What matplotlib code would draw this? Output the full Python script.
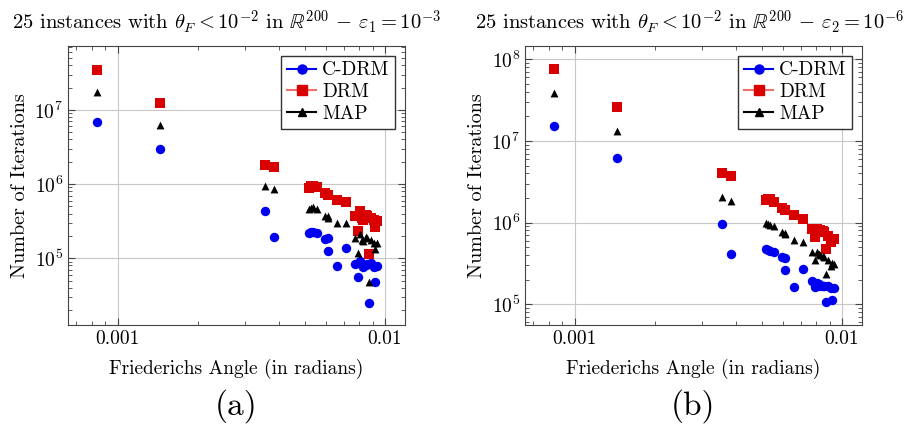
import numpy as np
import matplotlib
matplotlib.use("Agg")
import matplotlib.pyplot as plt
from matplotlib.lines import Line2D
from matplotlib.ticker import LogLocator, FixedLocator, FixedFormatter, NullFormatter

plt.rcParams['font.family'] = ['cmr10', 'DejaVu Serif']
plt.rcParams['mathtext.fontset'] = 'cm'
plt.rcParams['axes.formatter.use_mathtext'] = True

# Friederichs angles (radians) of the 25 instances
angles = [8.37e-4, 1.445e-3, 3.565e-3, 3.837e-3,
          5.21e-3, 5.28e-3, 5.36e-3, 5.57e-3, 5.98e-3, 6.10e-3, 6.12e-3,
          6.60e-3, 7.17e-3, 7.70e-3, 7.90e-3, 8.09e-3, 8.25e-3, 8.49e-3,
          8.71e-3, 8.84e-3, 9.15e-3, 9.31e-3, 9.07e-3, 8.20e-3, 8.59e-3]

# (a) eps = 1e-3
cdrm_a = [6.97e6, 2.98e6, 4.40e5, 1.96e5,
          2.22e5, 2.25e5, 2.27e5, 2.18e5, 1.81e5, 1.90e5, 1.26e5,
          7.96e4, 1.39e5, 8.38e4, 5.53e4, 9.20e4, 7.72e4, 8.13e4,
          2.52e4, 8.56e4, 4.84e4, 7.88e4, 7.55e4, 8.13e4, 8.30e4]
drm_a = [3.46e7, 1.24e7, 1.83e6, 1.70e6,
         8.92e5, 9.30e5, 9.49e5, 9.11e5, 7.56e5, 7.03e5, 7.18e5,
         6.02e5, 5.77e5, 3.73e5, 2.32e5, 4.27e5, 3.30e5, 3.81e5,
         1.13e5, 3.47e5, 2.60e5, 3.20e5, 3.30e5, 3.47e5, 3.66e5]
map_a = [1.77e7, 6.28e6, 9.35e5, 8.70e5,
         4.64e5, 4.74e5, 4.84e5, 4.59e5, 3.77e5, 3.54e5, 3.66e5,
         3.03e5, 2.97e5, 1.86e5, 1.16e5, 2.15e5, 1.70e5, 1.94e5,
         4.84e4, 1.75e5, 1.35e5, 1.63e5, 1.60e5, 1.77e5, 1.86e5]

# (b) eps = 1e-6
cdrm_b = [1.53e7, 6.24e6, 9.64e5, 4.16e5,
          4.75e5, 4.61e5, 4.44e5, 4.32e5, 3.75e5, 3.68e5, 2.59e5,
          1.63e5, 2.69e5, 1.90e5, 1.62e5, 1.81e5, 1.68e5, 1.65e5,
          1.05e5, 1.68e5, 1.11e5, 1.56e5, 1.56e5, 1.75e5, 1.65e5]
drm_b = [7.60e7, 2.62e7, 4.08e6, 3.68e6,
         1.90e6, 1.92e6, 1.94e6, 1.78e6, 1.50e6, 1.445e6, 1.418e6,
         1.254e6, 1.11e6, 8.36e5, 6.66e5, 8.36e5, 8.20e5, 7.82e5,
         4.79e5, 6.92e5, 6.30e5, 6.30e5, 5.84e5, 8.20e5, 7.60e5]
map_b = [3.85e7, 1.315e7, 2.05e6, 1.83e6,
         9.81e5, 9.63e5, 9.45e5, 9.01e5, 7.60e5, 7.46e5, 7.19e5,
         6.18e5, 5.73e5, 4.32e5, 3.44e5, 4.32e5, 4.04e5, 3.87e5,
         2.32e5, 3.51e5, 3.19e5, 3.13e5, 2.96e5, 4.16e5, 3.78e5]

titles = [r"25 instances with $\theta_F < 10^{-2}$ in $\mathbb{R}^{200}$ $-$ $\varepsilon_1 = 10^{-3}$",
          r"25 instances with $\theta_F < 10^{-2}$ in $\mathbb{R}^{200}$ $-$ $\varepsilon_2 = 10^{-6}$"]
panel_labels = ["(a)", "(b)"]
ylims = [(10**4.1, 10**7.862), (10**4.745, 10**8.164)]
title_x = [0.47, 0.487]

blue = '#0000f0'
red = '#d80000'

fig = plt.figure(figsize=(9.13, 4.24), dpi=100)
axes = [fig.add_axes([68/913, 1 - 325/424, 337/913, 279/424]),
        fig.add_axes([525/913, 1 - 325/424, 337/913, 279/424])]

data = [(cdrm_a, drm_a, map_a), (cdrm_b, drm_b, map_b)]

for i, ax in enumerate(axes):
    c, d, m = data[i]
    ax.set_xscale('log')
    ax.set_yscale('log')
    ax.scatter(angles, c, marker='o', s=46, color=blue, zorder=3, linewidths=0)
    ax.scatter(angles, d, marker='s', s=46, color=red, zorder=3, linewidths=0)
    ax.scatter(angles, m, marker='^', s=32, color='black', zorder=4, linewidths=0)
    ax.set_xlim(10**-3.186, 10**-1.925)
    ax.set_ylim(*ylims[i])
    ax.xaxis.set_major_locator(FixedLocator([0.001, 0.01]))
    ax.xaxis.set_major_formatter(FixedFormatter(['0.001', '0.01']))
    ax.xaxis.set_minor_locator(LogLocator(base=10, subs=np.arange(2, 10)))
    ax.xaxis.set_minor_formatter(NullFormatter())
    ax.yaxis.set_major_locator(LogLocator(base=10, numticks=10))
    ax.yaxis.set_minor_locator(LogLocator(base=10, subs=np.arange(2, 10), numticks=10))
    ax.yaxis.set_minor_formatter(NullFormatter())
    ax.grid(True, which='major', color='#c8c8c8', linewidth=0.8)
    ax.set_axisbelow(True)
    ax.tick_params(which='both', direction='in', top=True, right=True, color='#444444')
    ax.tick_params(which='major', length=5, labelsize=14)
    ax.tick_params(which='minor', length=3)
    for sp in ax.spines.values():
        sp.set_color('#444444')
    ax.set_xlabel("Friederichs Angle (in radians)", fontsize=14, labelpad=8)
    ax.set_ylabel("Number of Iterations", fontsize=14.5, labelpad=4)
    ax.set_title(titles[i], fontsize=14.8, pad=12, x=title_x[i])
    ax.text(0.5, -0.29, panel_labels[i], transform=ax.transAxes, ha='center', va='center', fontsize=24)

    handles = [Line2D([], [], color=blue, marker='o', markersize=6.5),
               Line2D([], [], color='#f07070', marker='s', markersize=6.5, markerfacecolor=red, markeredgecolor=red),
               Line2D([], [], color='black', marker='^', markersize=6)]
    leg = ax.legend(handles, ['C-DRM', 'DRM', 'MAP'], loc='upper right', fontsize=14,
                    fancybox=False, framealpha=1, edgecolor='#333333',
                    handlelength=1.5, borderpad=0.3, labelspacing=0.2, handletextpad=0.3,
                    borderaxespad=0.5)
    leg.get_frame().set_linewidth(1.0)

fig.savefig('out.png', dpi=100)
